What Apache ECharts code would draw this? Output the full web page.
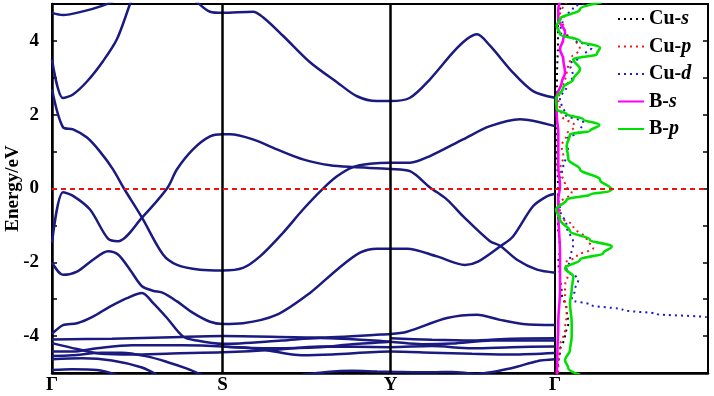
<!DOCTYPE html>
<html>
<head>
<meta charset="utf-8">
<script src="https://cdn.jsdelivr.net/npm/echarts@6/dist/echarts.min.js"></script>
<style>
html,body{margin:0;padding:0;background:#fff;}
#chart{width:714px;height:396px;}
</style>
</head>
<body>
<div id="chart"></div>
<script>
// ---- high-symmetry path (k-distance, arbitrary units) ----
const kNodes = [0, 170.5, 338.5, 503];
const kLabels = ['Γ', 'S', 'Y', 'Γ'];
const energyTicks = [-4, -2, 0, 2, 4];

// ---- bands: [k, E(eV)] ----
const band1 = [[0,4.76],[11,4.70],[31,4.80],[50,4.95],[63,5.1],[75,5.3]];
const band2 = [[135,5.3],[145,5.05],[158,4.79],[170.5,4.76],[201,4.79],[211,4.64],[231,4.14],[258,3.42],[285,2.88],[305,2.5],[325,2.37],[338.5,2.37],[358,2.46],[378,2.96],[401,3.69],[415,4.05],[425,4.18],[438,3.87],[461,3.14],[481,2.64],[503,2.46]];
const band3 = [[0,3.5],[11,2.45],[21,2.55],[35,2.9],[51,3.45],[65,4.05],[78,5.0],[82,5.3]];
const band4 = [[0,2.69],[11,1.66],[21,1.6],[35,1.38],[48,1.0],[61,0.52],[72,0],[90,-0.79],[111,-1.79],[125,-2.07],[148,-2.2],[170.5,-2.22],[191,-2.15],[208,-1.84],[231,-1.2],[251,-0.57],[270,-0.03],[285,0.33],[301,0.58],[318,0.67],[338.5,0.7],[358,0.7],[378,0.88],[411,1.33],[438,1.69],[468,1.88],[503,1.69]];
const band5 = [[0,-1.47],[11,-0.1],[21,-0.2],[38,-0.57],[56,-1.36],[66,-1.43],[90,-0.79],[115,0],[125,0.52],[141,1.06],[158,1.41],[170.5,1.47],[178,1.47],[201,1.33],[225,1.06],[251,0.79],[278,0.63],[301,0.58],[338.5,0.53],[358,0.47],[378,0.03],[395,-0.3],[411,-0.75],[438,-1.43],[448,-1.55],[465,-1.93],[485,-2.2],[503,-2.28]];
const band6 = [[0,-2.0],[11,-2.34],[25,-2.25],[41,-1.93],[56,-1.7],[66,-1.79],[78,-2.2],[90,-2.65],[101,-2.77],[111,-2.83],[125,-3.06],[141,-3.37],[158,-3.61],[170.5,-3.67],[191,-3.65],[225,-3.42],[258,-2.83],[285,-2.2],[308,-1.74],[325,-1.63],[338.5,-1.63],[355,-1.63],[385,-1.84],[413,-2.07],[426,-1.98],[448,-1.57],[461,-1.3],[481,-0.48],[495,-0.21],[503,-0.14]];
const band7 = [[0,-3.94],[11,-3.7],[25,-3.65],[41,-3.47],[58,-3.2],[75,-2.97],[90,-2.83],[101,-3.1],[115,-3.51],[131,-4.01],[145,-4.12],[170.5,-4.21],[230,-4.12],[268,-4.05],[338.5,-4.15],[370,-4.22],[400,-4.2],[440,-4.12],[503,-4.12]];
const band8 = [[0,-4.09],[60,-4.07],[120,-4.03],[170.5,-4.0],[268,-4.04],[338.5,-3.94],[355,-3.88],[395,-3.51],[425,-3.42],[448,-3.56],[471,-3.67],[503,-3.7]];
const band9 = [[0,-4.19],[25,-4.35],[50,-4.48],[80,-4.5],[120,-4.47],[170.5,-4.44],[220,-4.38],[268,-4.28],[338.5,-4.3],[380,-4.27],[420,-4.33],[460,-4.3],[503,-4.28]];
const band10 = [[0,-4.42],[20,-4.42],[45,-4.33],[80,-4.25],[130,-4.25],[170.5,-4.28],[210,-4.36],[250,-4.52],[280,-4.5],[338.5,-4.42],[380,-4.45],[420,-4.48],[460,-4.5],[503,-4.46]];
const band11 = [[0,-4.54],[20,-4.52],[50,-4.45],[70,-4.45],[95,-4.55],[115,-4.7],[135,-4.88],[150,-5.05]];
const band12 = [[0,-4.63],[30,-4.6],[60,-4.66],[90,-4.85],[105,-5.05]];
const band13 = [[0,-4.92],[20,-4.9],[45,-4.92],[65,-5.05]];
const band14 = [[250,-5.05],[275,-4.97],[300,-4.94],[325,-4.96],[345,-4.97],[380,-4.98],[400,-4.97],[430,-5.05]];
const band15 = [[420,-5.05],[445,-4.95],[465,-4.83],[485,-4.68],[503,-4.63]];
const band16 = [[338.5,-4.06],[380,-4.1],[420,-4.12],[460,-4.07],[503,-4.06]];
const band17 = [[170.5,-4.28],[220,-4.33],[268,-4.3],[300,-4.22],[338.5,-4.15]];
const bands = [band1,band2,band3,band4,band5,band6,band7,band8,band9,band10,band11,band12,band13,band14,band15,band16,band17];

// ---- PDOS: [DOS (arb. units), E(eV)] ----
const dosCuS = [[0.8,5.05],[0.3,4.6],[0.3,4.0],[0.2,3.0],[0.15,2.0],[0.2,1.0],[0.3,0.0],[0.3,-1.0],[0.5,-1.66],[0.33,-2.0],[0.5,-2.38],[0.67,-2.83],[1.17,-3.29],[1.33,-3.65],[1.0,-4.0],[0.5,-4.4],[0.3,-4.8],[0.2,-5.05]];
const dosCuP = [[1.17,5.05],[0.5,4.7],[1.0,4.24],[2.17,3.96],[2.5,3.78],[1.5,3.5],[1.17,3.14],[0.83,2.78],[0.33,2.42],[0.67,1.97],[2.0,1.69],[1.17,1.47],[0.67,1.15],[0.83,0.88],[0.5,0.5],[1.0,0.1],[1.67,-0.12],[0.5,-0.39],[0.5,-0.75],[1.83,-1.02],[3.17,-1.39],[3.83,-1.61],[2.17,-1.84],[1.0,-2.02],[1.33,-2.29],[1.0,-2.65],[1.0,-3.02],[1.17,-3.38],[1.0,-3.83],[0.5,-4.28],[0.33,-4.74],[0.33,-5.05]];
const dosCuD = [[3.5,5.05],[1.8,4.9],[0.8,4.6],[0.5,4.24],[1.8,4.05],[3.67,3.82],[2.8,3.6],[1.5,3.37],[1.8,3.05],[1.17,2.78],[0.5,2.42],[1.0,2.01],[2.83,1.79],[2.5,1.56],[1.17,1.33],[1.33,0.97],[0.83,0.61],[0.5,0.24],[0.3,-0.21],[0.5,-0.57],[1.17,-1.02],[1.83,-1.48],[1.5,-1.93],[1.17,-2.2],[2.33,-2.47],[2.0,-2.74],[1.67,-3.02],[3.5,-3.15],[6.8,-3.29],[10.17,-3.4],[15.17,-3.49],[18,-3.53],[30,-3.8],[30,-5.05]];
const dosBS = [[0.5,5.05],[0.33,4.86],[0.33,4.6],[1.0,4.23],[0.83,4.05],[0.5,3.78],[0.83,3.5],[1.0,3.14],[0.67,2.87],[0.17,2.51],[0.17,2.0],[0.33,1.5],[0.33,0.6],[0.5,0.06],[0.33,-0.3],[0.33,-0.57],[0.5,-1.84],[0.5,-2.74],[0.33,-3.65],[0.23,-4.55],[0.17,-5.05]];
const dosBP = [[4.67,5.05],[2.5,4.86],[0.5,4.59],[0.17,4.41],[0.5,4.18],[2.5,4.0],[4.5,3.82],[4.17,3.64],[1.83,3.5],[2.5,3.23],[1.83,2.96],[0.83,2.74],[0.1,2.42],[0.17,2.15],[1.17,2.01],[2.83,1.88],[4.43,1.72],[3.5,1.56],[1.5,1.47],[1.17,1.15],[1.33,0.79],[2.5,0.52],[4.5,0.24],[5.67,-0.03],[5.5,-0.07],[3.5,-0.16],[1.17,-0.3],[0.1,-0.57],[0.5,-0.84],[1.5,-1.16],[3.5,-1.39],[5.67,-1.57],[4.83,-1.75],[2.5,-1.93],[1.0,-2.16],[1.83,-2.38],[1.67,-2.74],[1.5,-3.11],[1.67,-3.65],[1.67,-4.01],[1.5,-4.38],[1.0,-4.65],[1.33,-4.87],[2.5,-5.05]];

const dosNames = ['Cu-s','Cu-p','Cu-d','B-s','B-p'];
const dosSets = [dosCuS, dosCuP, dosCuD, dosBS, dosBP];
const dosColors = ['#000000','#ee1c1c','#1c1ccc','#ff00ff','#00e000'];
const dosDashed = [true, true, true, false, false];

const serif = '"Liberation Serif","DejaVu Serif",serif';
const bandColor = '#1a1a80';

const chart = echarts.init(document.getElementById('chart'));

const series = [];
bands.forEach((b, i) => {
  const s = {
    type: 'line', xAxisIndex: 0, yAxisIndex: 0, data: b,
    symbol: 'none', smooth: 0.3, clip: true, silent: true,
    lineStyle: { color: bandColor, width: 2.5 },
    z: 3
  };
  if (i === 0) {
    s.markLine = {
      symbol: 'none', silent: true, label: { show: false },
      animation: false,
      lineStyle: { color: '#000', width: 2.5, type: 'solid' },
      data: [
        { xAxis: kNodes[1] },
        { xAxis: kNodes[2] },
        { yAxis: 0, lineStyle: { color: '#ee1111', width: 1.8, type: [5, 4] } }
      ]
    };
  }
  series.push(s);
});
dosSets.forEach((d, i) => {
  const s = {
    name: dosNames[i], type: 'line', xAxisIndex: 1, yAxisIndex: 1, data: d,
    symbol: 'none', smooth: 0.4, smoothMonotone: 'y', clip: true, silent: true,
    color: dosColors[i],
    lineStyle: { color: dosColors[i], width: dosDashed[i] ? 2 : 2.6, type: dosDashed[i] ? [2, 4] : 'solid' },
    z: 3
  };
  if (i === 0) {
    s.markLine = {
      symbol: 'none', silent: true, label: { show: false }, animation: false,
      lineStyle: { color: '#ee1111', width: 1.8, type: [5, 4] },
      data: [{ yAxis: 0 }]
    };
  }
  series.push(s);
});

const option = {
  animation: false,
  backgroundColor: '#fff',
  grid: [
    { left: 52, top: 4, width: 503, height: 369, show: true, borderColor: '#000', borderWidth: 2, containLabel: false, outerBoundsMode: 'none' },
    { left: 555, top: 4, width: 153, height: 369, show: true, borderColor: '#000', borderWidth: 2, containLabel: false, outerBoundsMode: 'none' }
  ],
  legend: {
    data: dosNames,
    orient: 'vertical',
    left: 612, top: 4,
    itemWidth: 26, itemHeight: 12, itemGap: 7.5,
    itemStyle: { opacity: 0, color: 'transparent', borderWidth: 0 },
    textStyle: {
      fontFamily: serif, fontSize: 20, fontWeight: 'bold', color: '#000', lineHeight: 20,
      rich: {
        b: { fontFamily: serif, fontSize: 20, fontWeight: 'bold', color: '#000' },
        i: { fontFamily: serif, fontSize: 20, fontWeight: 'bold', fontStyle: 'italic', color: '#000' }
      }
    },
    formatter: function (name) {
      const p = name.split('-');
      return '{b|' + p[0] + '-}{i|' + p[1] + '}';
    }
  },
  xAxis: [
    {
      gridIndex: 0, type: 'value', min: kNodes[0], max: kNodes[3],
      axisLine: { show: true, onZero: false, lineStyle: { color: '#000', width: 2.5 } },
      axisTick: { show: false }, splitLine: { show: false },
      axisLabel: {
        customValues: kNodes,
        formatter: function (v) {
          const idx = kNodes.indexOf(v);
          return idx >= 0 ? kLabels[idx] : '';
        },
        fontFamily: serif, fontSize: 19, fontWeight: 'bold', color: '#000', margin: 3
      }
    },
    {
      gridIndex: 1, type: 'value', min: 0, max: 15.3,
      axisLine: { show: true, onZero: false, lineStyle: { color: '#000', width: 2.5 } },
      axisTick: { show: false }, axisLabel: { show: false }, splitLine: { show: false }
    }
  ],
  yAxis: [
    {
      gridIndex: 0, type: 'value', min: -5, max: 5, interval: 1,
      name: 'Energy/eV', nameLocation: 'middle', nameGap: 29, nameMoveOverlap: false,
      nameTextStyle: { fontFamily: serif, fontSize: 19, fontWeight: 'bold', color: '#000' },
      axisLine: { show: true, onZero: false, lineStyle: { color: '#000', width: 2.5 } },
      axisTick: { show: true, inside: true, length: 5, lineStyle: { color: '#000', width: 1.5 } },
      splitLine: { show: false },
      axisLabel: {
        formatter: function (v) { return energyTicks.indexOf(v) >= 0 ? String(v) : ''; },
        fontFamily: serif, fontSize: 19, fontWeight: 'bold', color: '#000', margin: 13
      }
    },
    {
      gridIndex: 1, type: 'value', min: -5, max: 5, interval: 1, position: 'right',
      axisLine: { show: true, onZero: false, lineStyle: { color: '#000', width: 2 } },
      axisTick: { show: true, inside: true, length: 5, lineStyle: { color: '#000', width: 1.5 } },
      axisLabel: { show: false }, splitLine: { show: false }
    }
  ],
  series: series
};
chart.setOption(option);
</script>
</body>
</html>
